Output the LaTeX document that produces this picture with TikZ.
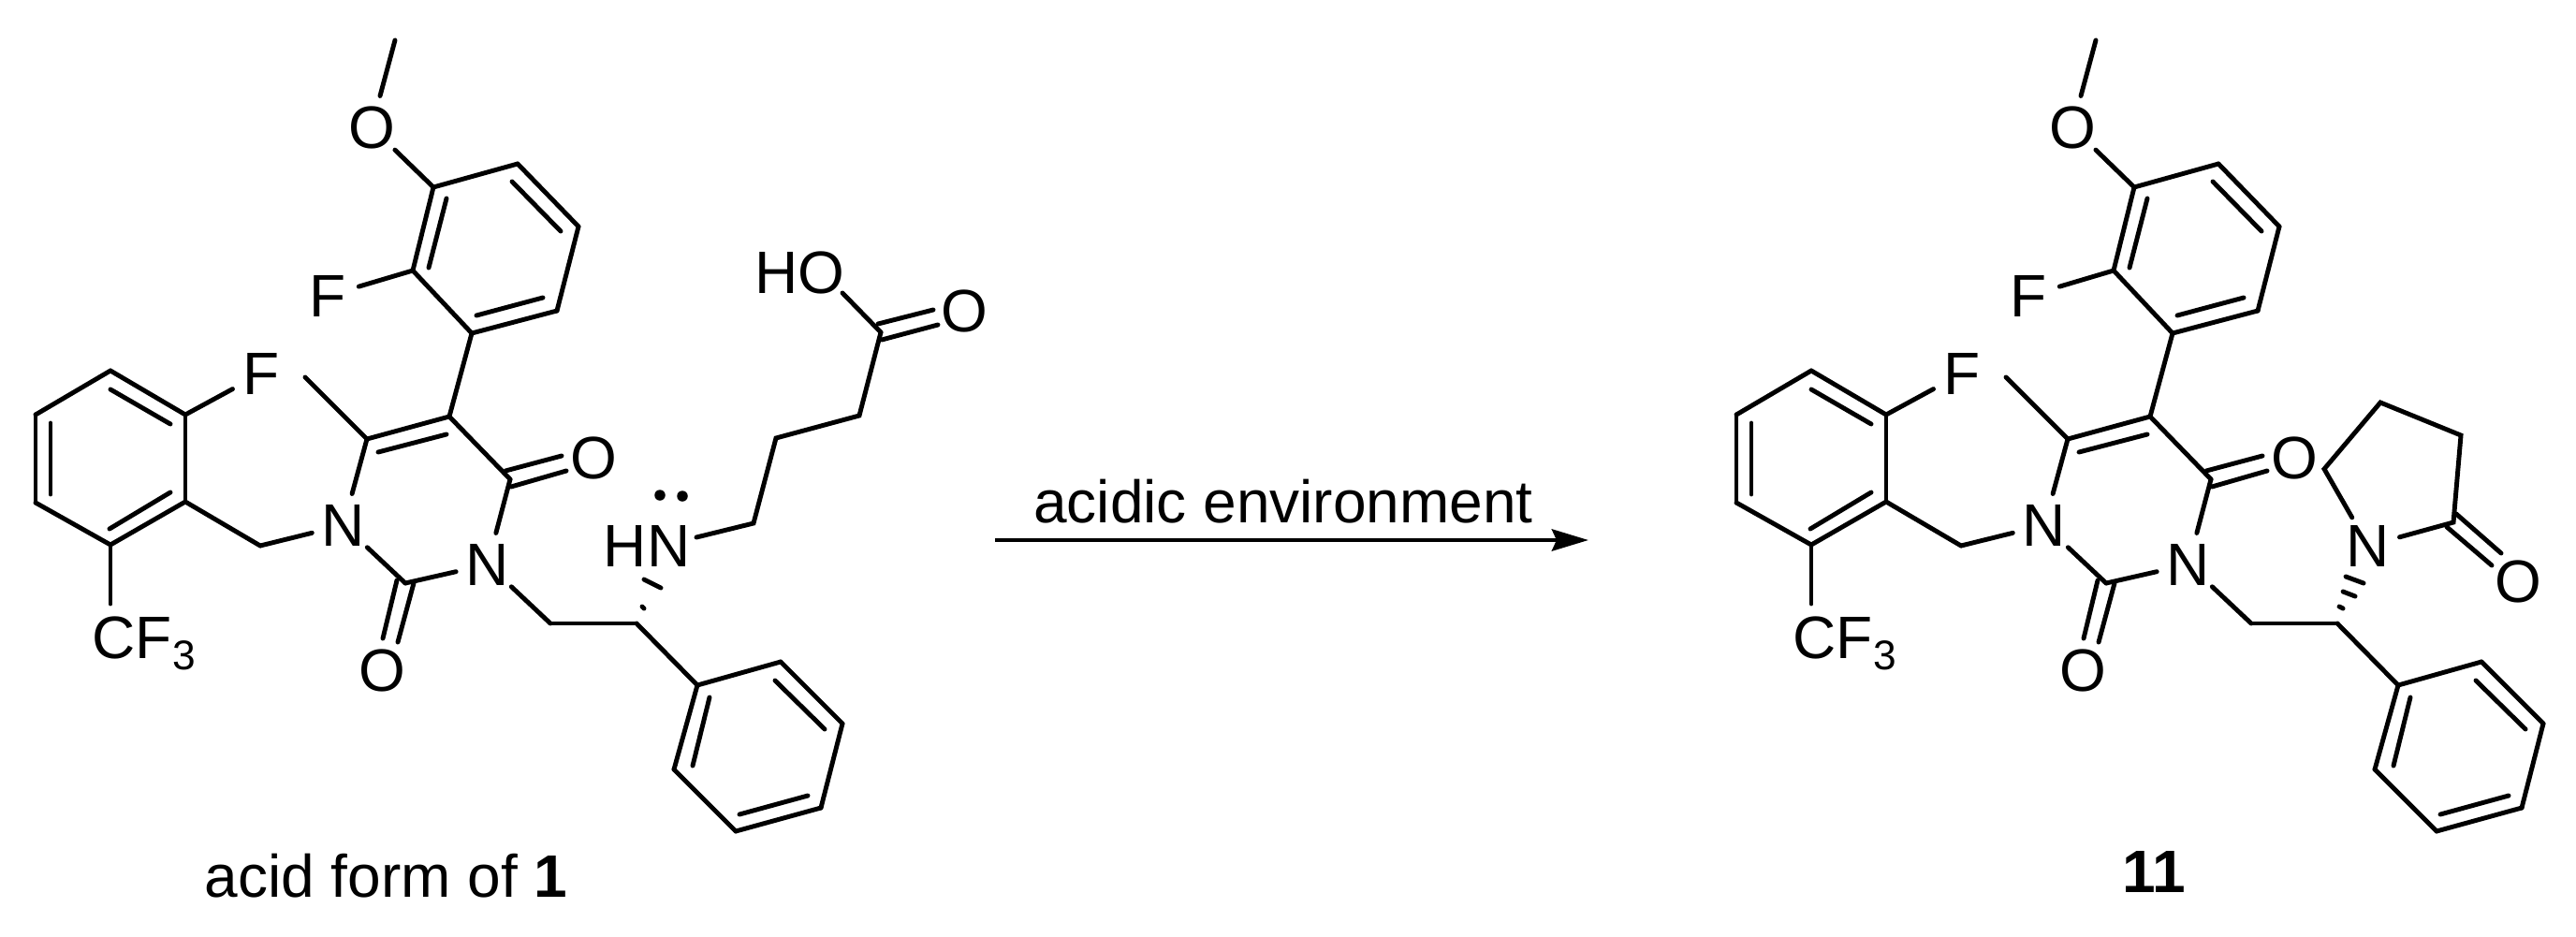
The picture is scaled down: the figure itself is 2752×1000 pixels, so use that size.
\documentclass[tikz,border=0pt]{standalone}
\usepackage{fontspec}
\setmainfont{Liberation Sans}
\usetikzlibrary{arrows.meta}
\newcommand{\labelsize}{\fontsize{18.2}{22}\selectfont}
\newcommand{\subsize}[1]{\raisebox{-0.2em}{\fontsize{12.6}{14}\selectfont #1}}
\tikzset{
  bond/.style={line width=1.4pt, line cap=round},
  atom/.style={circle, inner sep=0pt, minimum size=0.68cm, font=\labelsize},
  plain/.style={inner sep=0pt, font=\labelsize},
  lonepair/.style={circle, fill=black, inner sep=0pt, minimum size=0.115cm},
}

\begin{document}
\begin{tikzpicture}[x=0.01cm, y=-0.01cm, >={Stealth[length=0.39cm, width=0.23cm, inset=0.05cm]}]
\useasboundingbox (0,0) rectangle (2752,1000);

% the part both molecules share
\foreach \m/\dx in {l/0, r/1817} {
\begin{scope}[shift={(\dx,0)}]
\foreach \n/\x/\y in {me/422/43, a1/463/200, a2/553/175, a3/618/242, a4/595/332, a5/504/356, a6/441/289,
  a1i/477/212, a6i/458/286, a2i/547/194, a3i/599/247, a4i/580/318, a5i/509/337,
  c5/480/445, c6/392/469, cme/326/403, c4/545/512, c2/433/623, c5i/477/464, c6i/404/483,
  b1/118/396, b2/198/443, b3/198/536, b4/118/582, b5/38/537, b6/38/443,
  b1i/118/416, b2i/182/453, b3i/182/526, b4i/117/565, b5i/54/528, b6i/54/452,
  bch/278/583, oa/540/503, ob/600/487, oc/546/520, od/605/503,
  pa/424/620, pb/409/682, pc/442/623, pd/425/686,
  ch2/588/666, ch/680/666, p1/745/732, p2/834/707, p3/900/773, p4/877/863, p5/786/888, p6/720/822,
  p1i/758/745, p6i/740/818, p2i/828/727, p3i/881/779, p4i/863/850, p5i/790/870}
  \coordinate (\m-\n) at (\x,\y);
\node[atom] (\m-ome) at (397,136) {O};
\node[atom] (\m-fa) at (350,316) {F};
\node[atom] (\m-fb) at (279,399) {F};
\node[atom] (\m-n1) at (367,561) {N};
\node[atom] (\m-n3) at (521,603) {N};
\node[atom] (\m-oc4) at (634,489) {O};
\node[atom] (\m-oc2) at (408,716) {O};
\node[plain, anchor=base west] (\m-cf) at (98,703) {CF\subsize{3}};
\coordinate (\m-cfe) at (118,645);
\end{scope}
\foreach \a/\b in {me/ome, ome/a1, a1/a2, a2/a3, a3/a4, a4/a5, a5/a6, a6/a1, a6/fa, a1i/a6i, a2i/a3i, a4i/a5i,
  a5/c5, c5/c6, c5i/c6i, c6/cme, c5/c4, c4/n3, c6/n1, n1/c2, c2/n3, oa/ob, oc/od, pa/pb, pc/pd,
  b1/b2, b2/b3, b3/b4, b4/b5, b5/b6, b6/b1, b2/fb, b1i/b2i, b3i/b4i, b5i/b6i, b4/cfe,
  b3/bch, bch/n1, n3/ch2, ch2/ch, ch/p1,
  p1/p2, p2/p3, p3/p4, p4/p5, p5/p6, p6/p1, p1i/p6i, p2i/p3i, p4i/p5i}
  \draw[bond] (\m-\a) -- (\m-\b);
}

% chain on the left molecule
\node[plain] (hn) at (691,583) {HN};
\node[lonepair] (lpa) at (705,529) {};
\node[lonepair] (lpb) at (729,530) {};
\node[plain] (ho) at (854,291) {HO};
\node[atom] (oacid) at (1030,332) {O};
\foreach \n/\x/\y in {hne/744/574, k1/805/559, k2/829/468, k3/918/444, k4/941/355, hoe/900/313,
  ka/938/346, kb/997/331, kc/942/363, kd/1002/347, ha/688/619, hb/706/628, hc/686/648, hd/688/650}
  \coordinate (\n) at (\x,\y);
\draw[bond] (hne) -- (k1) -- (k2) -- (k3) -- (k4);
\draw[bond] (k4) -- (hoe);
\draw[bond] (ka) -- (kb);
\draw[bond] (kc) -- (kd);
\draw[bond] (ha) -- (hb);
\draw[bond] (hc) -- (hd);

% lactam on the right molecule
\node[atom] (nlac) at (2530,583) {N};
\node[atom] (olac) at (2690,621) {O};
\foreach \n/\x/\y in {t1/2483/501, t2/2543/430, t3/2629/465, t4/2621/558,
  ta/2624/549, tb/2672/591, tc/2614/563, td/2662/604,
  sa/2499/648, sb/2503/650, sc/2503/632, sd/2516/637, se/2506/616, sf/2525/623}
  \coordinate (\n) at (\x,\y);
\draw[bond] (nlac) -- (t1) -- (t2) -- (t3) -- (t4) -- (nlac);
\draw[bond] (ta) -- (tb);
\draw[bond] (tc) -- (td);
\draw[bond] (sa) -- (sb);
\draw[bond] (sc) -- (sd);
\draw[bond] (se) -- (sf);

% arrow and captions
\coordinate (arrs) at (1063,577);
\coordinate (arre) at (1697,577);
\draw[->, line width=1.4pt] (arrs) -- (arre);
\node[plain, anchor=base] (cond) at (1371,558) {acidic environment};
\node[plain, anchor=base west] (capl) at (218,958) {acid form of \textbf{1}};
\node[plain, anchor=base] (capr) at (2301,953) {\textbf{11}};
\end{tikzpicture}
\end{document}
